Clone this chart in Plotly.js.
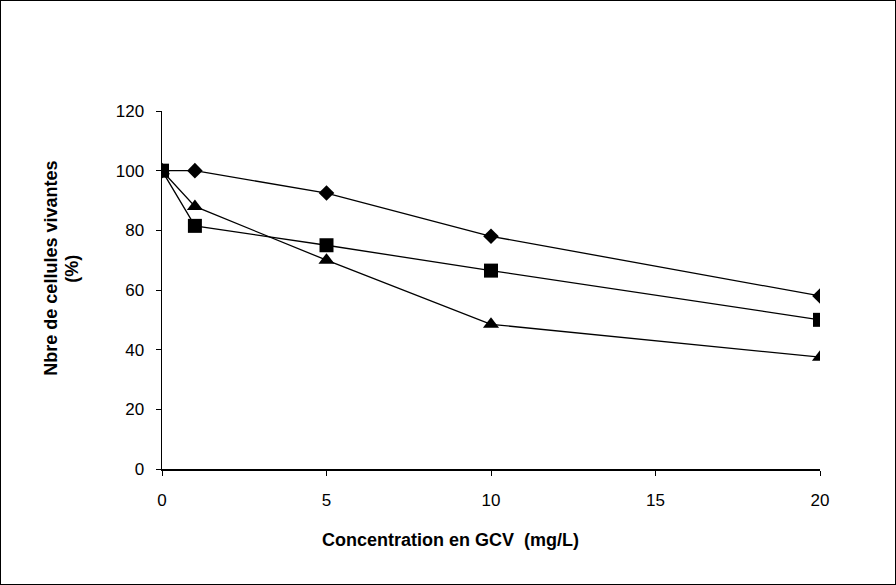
<!DOCTYPE html>
<html>
<head>
<meta charset="utf-8">
<script src="https://cdn.plot.ly/plotly-3.0.1.min.js"></script>
<style>
html,body{margin:0;padding:0;background:#fff;}
#wrap{width:896px;height:585px;box-sizing:border-box;border:1px solid #000;position:relative;}
#chart{width:894px;height:583px;}
</style>
</head>
<body>
<div id="wrap"><div id="chart"></div></div>
<script>
const concentrations = [0, 1, 5, 10, 20];
const seriesDiamond = [100, 100, 92.5, 78, 58];
const seriesSquare = [100, 81.5, 75, 66.5, 50];
const seriesTriangle = [100, 88, 70, 48.5, 37.5];
const xTicks = [0, 5, 10, 15, 20];
const yTicks = [0, 20, 40, 60, 80, 100, 120];
const xTitle = 'Concentration en GCV  (mg/L)';
const yTitleLine1 = 'Nbre de cellules vivantes';
const yTitleLine2 = '(%)';

const lineStyle = {color: '#000', width: 1.3};
const traces = [
  {x: concentrations, y: seriesTriangle, mode: 'lines+markers', line: lineStyle,
   marker: {symbol: 'triangle-up', size: 14, color: '#000'}},
  {x: concentrations, y: seriesSquare, mode: 'lines+markers', line: lineStyle,
   marker: {symbol: 'square', size: 14, color: '#000'}},
  {x: concentrations, y: seriesDiamond, mode: 'lines+markers', line: lineStyle,
   marker: {symbol: 'diamond', size: 12, color: '#000'}}
];

const titleFont = {family: 'Liberation Sans, Arial, sans-serif', size: 18, color: '#000', weight: 'bold'};

const layout = {
  width: 894, height: 583,
  margin: {l: 161, r: 75, t: 110, b: 115},
  paper_bgcolor: '#fff', plot_bgcolor: '#fff',
  showlegend: false,
  font: {family: 'Liberation Sans, Arial, sans-serif', size: 17, color: '#000'},
  xaxis: {
    range: [0, 20], tickvals: xTicks, ticktext: xTicks.map(String),
    showgrid: false, zeroline: false, showline: true, linecolor: '#000', linewidth: 1.5,
    ticks: 'outside', ticklen: 5, tickcolor: '#000', tickwidth: 1,
    ticklabelstandoff: 10,
    tickfont: {size: 17}
  },
  yaxis: {
    range: [0, 120], tickvals: yTicks, ticktext: yTicks.map(String),
    showgrid: false, zeroline: false, showline: true, linecolor: '#000', linewidth: 1.5,
    ticks: 'outside', ticklen: 5, tickcolor: '#000', tickwidth: 1,
    ticklabelstandoff: 8,
    tickfont: {size: 17}
  },
  annotations: [
    {text: xTitle, xref: 'paper', yref: 'paper', x: 0.4377, y: -0.198,
     xanchor: 'center', yanchor: 'middle', showarrow: false, font: titleFont},
    {text: yTitleLine1, xref: 'paper', yref: 'paper', x: -0.170, y: 0.56,
     xanchor: 'center', yanchor: 'middle', textangle: -90, showarrow: false, font: titleFont},
    {text: yTitleLine2, xref: 'paper', yref: 'paper', x: -0.138, y: 0.56,
     xanchor: 'center', yanchor: 'middle', textangle: -90, showarrow: false, font: titleFont}
  ]
};

Plotly.newPlot('chart', traces, layout, {displayModeBar: false, staticPlot: true});
</script>
</body>
</html>
